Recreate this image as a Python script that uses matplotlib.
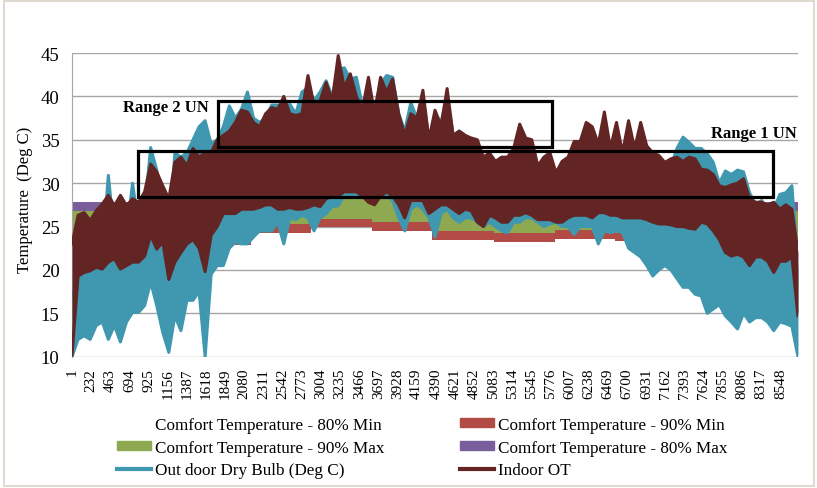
import numpy as np
import matplotlib
matplotlib.use("Agg")
import matplotlib.pyplot as plt
from matplotlib.patches import Rectangle, Patch
from matplotlib.lines import Line2D

plt.rcParams['font.family'] = ['Liberation Serif', 'DejaVu Serif']

# --- data (one sample every ~73 hours) ---
n_samples = 121
indoor_high = [23.0, 26.3, 26.6, 25.7, 26.8, 27.6, 28.6, 27.4, 28.6, 27.4, 28.2, 27.8, 29.0, 32.2, 31.3, 29.7, 28.2, 32.4,
               33.0, 32.0, 34.0, 33.0, 33.5, 33.5, 35.0, 35.5, 36.0, 37.0, 38.4, 38.2, 37.0, 36.5, 38.0, 38.7,
               38.5, 40.0, 38.0, 37.8, 38.0, 42.4, 39.0, 39.5, 41.6, 39.5, 44.7, 41.0, 42.6, 40.0, 38.5, 42.2, 38.0, 42.2,
               40.5, 42.0, 38.0, 35.5, 38.0, 37.5, 40.7, 35.0, 38.4, 36.6, 40.9, 35.5, 36.0, 35.5, 35.2, 35.0, 33.0,
               33.5, 32.5, 33.0, 33.0, 34.0, 36.8, 35.2, 35.0, 32.0, 33.0, 33.5, 31.2, 32.5, 33.0, 34.8, 34.8, 37.0, 36.5,
               34.5, 38.2, 34.0, 37.0, 33.5, 37.2, 34.0, 37.0, 34.3, 33.5, 33.2, 32.4, 32.8, 33.0, 32.5, 33.0, 32.8,
               31.6, 31.5, 31.0, 29.7, 29.5, 29.8, 30.0, 30.5, 28.2, 27.8, 27.8, 27.5, 27.8, 27.0, 27.5, 27.0, 22.0]
indoor_low = [10.2, 19.3, 19.7, 19.9, 20.3, 20.1, 20.9, 21.3, 20.1, 20.5, 20.9, 20.9, 21.6, 24.0, 22.4, 23.2, 18.9, 20.9,
              22.0, 23.0, 23.5, 22.5, 19.8, 24.0, 25.0, 26.5, 26.5, 26.5, 27.0, 27.0, 27.0, 27.2, 27.5, 27.5,
              27.0, 27.0, 27.2, 27.0, 27.0, 27.2, 27.5, 27.3, 28.2, 28.5, 28.5, 29.0, 29.0, 29.0, 28.5, 27.8, 27.5, 28.5,
              29.0, 28.5, 27.5, 26.0, 28.0, 28.0, 28.0, 26.5, 27.0, 27.5, 27.5, 27.0, 26.5, 27.0, 26.8, 25.5, 25.0,
              26.3, 26.0, 25.5, 25.5, 26.3, 26.3, 26.6, 26.3, 25.8, 25.8, 25.8, 25.5, 25.5, 26.0, 26.3, 26.3, 26.3, 26.0,
              26.6, 26.6, 26.3, 26.3, 26.0, 26.0, 26.0, 26.0, 25.8, 25.5, 25.3, 25.3, 25.2, 25.0, 25.0, 24.8, 24.7,
              25.5, 25.3, 24.5, 23.5, 22.0, 21.6, 21.8, 21.5, 20.5, 21.5, 21.5, 21.0, 19.7, 21.0, 21.0, 21.5, 14.7]
outdoor_high = [17.0, 19.0, 20.0, 20.0, 21.0, 22.0, 30.9, 24.0, 28.0, 24.0, 30.0, 25.0, 27.0, 34.1, 31.5, 28.0, 24.0, 33.5,
                33.0, 33.5, 35.0, 36.5, 37.2, 34.5, 35.0, 36.5, 38.9, 37.5, 38.5, 40.5, 37.5, 37.0, 37.5, 39.0,
                39.0, 38.5, 39.1, 38.0, 40.5, 41.0, 39.5, 40.5, 41.8, 40.0, 43.0, 43.3, 42.0, 42.2, 39.0, 40.5, 38.5, 41.5,
                42.4, 42.2, 38.0, 36.0, 39.3, 37.5, 40.0, 35.0, 38.0, 37.0, 40.0, 35.5, 36.0, 35.5, 35.0, 34.5, 33.0,
                32.5, 31.5, 32.0, 32.0, 33.0, 34.0, 34.0, 34.0, 31.0, 32.0, 32.5, 30.5, 31.5, 32.0, 33.5, 33.5, 34.0, 34.0,
                33.0, 34.0, 33.0, 34.0, 32.5, 34.0, 33.0, 33.0, 32.0, 31.5, 31.0, 31.5, 32.0, 34.0, 35.3, 34.7, 34.0,
                34.0, 33.4, 32.4, 30.0, 31.4, 31.0, 31.5, 31.3, 28.9, 27.5, 28.0, 27.0, 27.0, 28.7, 28.9, 29.7, 20.0]
outdoor_low = [10.0, 12.0, 12.4, 12.0, 13.6, 14.0, 12.0, 13.6, 11.7, 14.0, 15.1, 15.1, 15.9, 18.6, 15.9, 12.8, 10.5, 14.7,
               13.0, 16.5, 16.5, 17.5, 10.0, 19.5, 20.5, 20.5, 22.5, 23.2, 23.0, 23.0, 23.8, 24.5, 24.5, 24.5,
               25.5, 23.0, 26.0, 25.8, 26.3, 26.0, 24.5, 26.0, 26.5, 27.3, 27.4, 28.6, 28.6, 28.6, 28.5, 28.6, 28.5, 28.5,
               28.5, 28.0, 26.0, 24.5, 27.0, 27.5, 27.0, 26.0, 23.8, 26.5, 27.0, 26.0, 25.5, 26.0, 26.0, 25.5, 25.0,
               25.5, 25.0, 24.5, 24.3, 25.5, 25.5, 26.0, 26.0, 25.5, 25.0, 25.3, 25.5, 25.0, 25.0, 24.1, 25.0, 25.0, 25.0,
               23.0, 24.5, 24.3, 24.5, 24.3, 22.5, 22.0, 21.5, 20.5, 19.3, 20.0, 20.5, 20.0, 19.0, 18.0, 18.0, 17.2,
               17.0, 15.0, 15.5, 16.0, 14.7, 14.0, 13.2, 15.0, 14.0, 14.5, 14.5, 14.0, 13.0, 14.0, 13.8, 13.5, 10.0]

# monthly comfort limits
month_start = [1, 745, 1417, 2161, 2881, 3625, 4345, 5089, 5833, 6553, 7297, 8017, 8761]
comfort_80_min = [20.8, 21.0, 22.9, 24.3, 24.9, 24.5, 23.5, 23.2, 23.6, 23.3, 22.2, 20.8]
comfort_90_min = [21.8, 22.0, 23.9, 25.3, 25.9, 25.5, 24.5, 24.2, 24.6, 24.3, 23.2, 21.8]
comfort_90_max = [26.8, 27.0, 28.9, 30.3, 30.9, 30.5, 29.5, 29.2, 29.6, 29.3, 28.2, 26.8]
comfort_80_max = [27.8, 28.0, 29.9, 31.3, 31.9, 31.5, 30.5, 30.2, 30.6, 30.3, 29.2, 27.8]

xtick_labels = list(range(1, 8761, 231))

# annotation boxes: (hour from, hour to, temp low, temp high)
range_1 = (800, 8455, 28.4, 33.7)
range_2 = (1765, 5788, 34.2, 39.5)

hours = np.linspace(1, 8760, n_samples)

# --- colours ---
c_red = '#B24A46'
c_green = '#8EA94F'
c_purple = '#7A5E9B'
c_teal = '#3F98B0'
c_dark = '#632523'

fig = plt.figure(figsize=(8.17, 4.89), dpi=100)
ax = fig.add_axes([72/817, 1 - 357.7/489, 726/817, (357.7 - 54)/489])

def step(v):
    return list(v) + [v[-1]]

ax.fill_between(month_start, step(comfort_80_min), step(comfort_90_min), step='post', color=c_red, lw=0, zorder=1)
ax.fill_between(month_start, step(comfort_90_min), step(comfort_90_max), step='post', color=c_green, lw=0, zorder=1)
ax.fill_between(month_start, step(comfort_90_max), step(comfort_80_max), step='post', color=c_purple, lw=0, zorder=1)

for lo, hi, col, z in [(outdoor_low, outdoor_high, c_teal, 3), (indoor_low, indoor_high, c_dark, 4)]:
    ax.fill_between(hours, lo, hi, color=col, lw=0, zorder=z)
    ax.plot(hours, hi, color=col, lw=2.2, zorder=z, solid_joinstyle='round')
    ax.plot(hours, lo, color=col, lw=2.2, zorder=z, solid_joinstyle='round')

for (h0, h1, t0, t1) in [range_1, range_2]:
    ax.add_patch(Rectangle((h0, t0), h1 - h0, t1 - t0, fill=False, ec='black', lw=2.3, zorder=6))

ax.text(1645, 38.75, 'Range 2 UN', fontsize=12, fontweight='bold', ha='right', va='center', zorder=7)
ax.text(8745, 35.8, 'Range 1 UN', fontsize=12, fontweight='bold', ha='right', va='center', zorder=7)

ax.set_xlim(0.5, 8760.5)
ax.set_ylim(10, 45)
ax.set_yticks(range(10, 46, 5))
ax.set_xticks(xtick_labels)
ax.set_xticklabels([str(v) for v in xtick_labels], rotation=90, fontsize=11)
ax.tick_params(axis='x', length=0, pad=8)
ax.tick_params(axis='y', length=0, pad=9, labelsize=13.5)
ax.grid(axis='y', color='#A6A6A6', lw=1.0)
ax.set_axisbelow(True)
for s in ['top', 'right', 'bottom']:
    ax.spines[s].set_visible(False)
ax.spines['left'].set_color('#A6A6A6')
ax.set_ylabel('Temperature  (Deg C)', fontsize=12)
ax.yaxis.set_label_coords(-0.054, 0.52)

# legend: two columns placed by hand
col1 = [Patch(facecolor='none', edgecolor='none'), Patch(color=c_green), Line2D([], [], color=c_teal, lw=3)]
lab1 = ['Comfort Temperature - 80% Min', 'Comfort Temperature - 90% Max', 'Out door Dry Bulb (Deg C)']
col2 = [Patch(color=c_red), Patch(color=c_purple), Line2D([], [], color=c_dark, lw=3)]
lab2 = ['Comfort Temperature - 90% Min', 'Comfort Temperature - 80% Max', 'Indoor OT']
for handles, labels, xpos in [(col1, lab1, 117/817), (col2, lab2, 460/817)]:
    fig.legend(handles, labels, loc='upper left', bbox_to_anchor=(xpos, 1 - 418/489), frameon=False,
               fontsize=12.3, handlelength=2.0, handleheight=0.42, handletextpad=0.2, labelspacing=0.39,
               borderpad=0, borderaxespad=0)

fig.add_artist(Rectangle((4/817, 2/489), 810/817, 485/489, transform=fig.transFigure,
                         fill=False, ec='#D9D3C7', lw=1.2))

fig.savefig('out.png', dpi=100)
